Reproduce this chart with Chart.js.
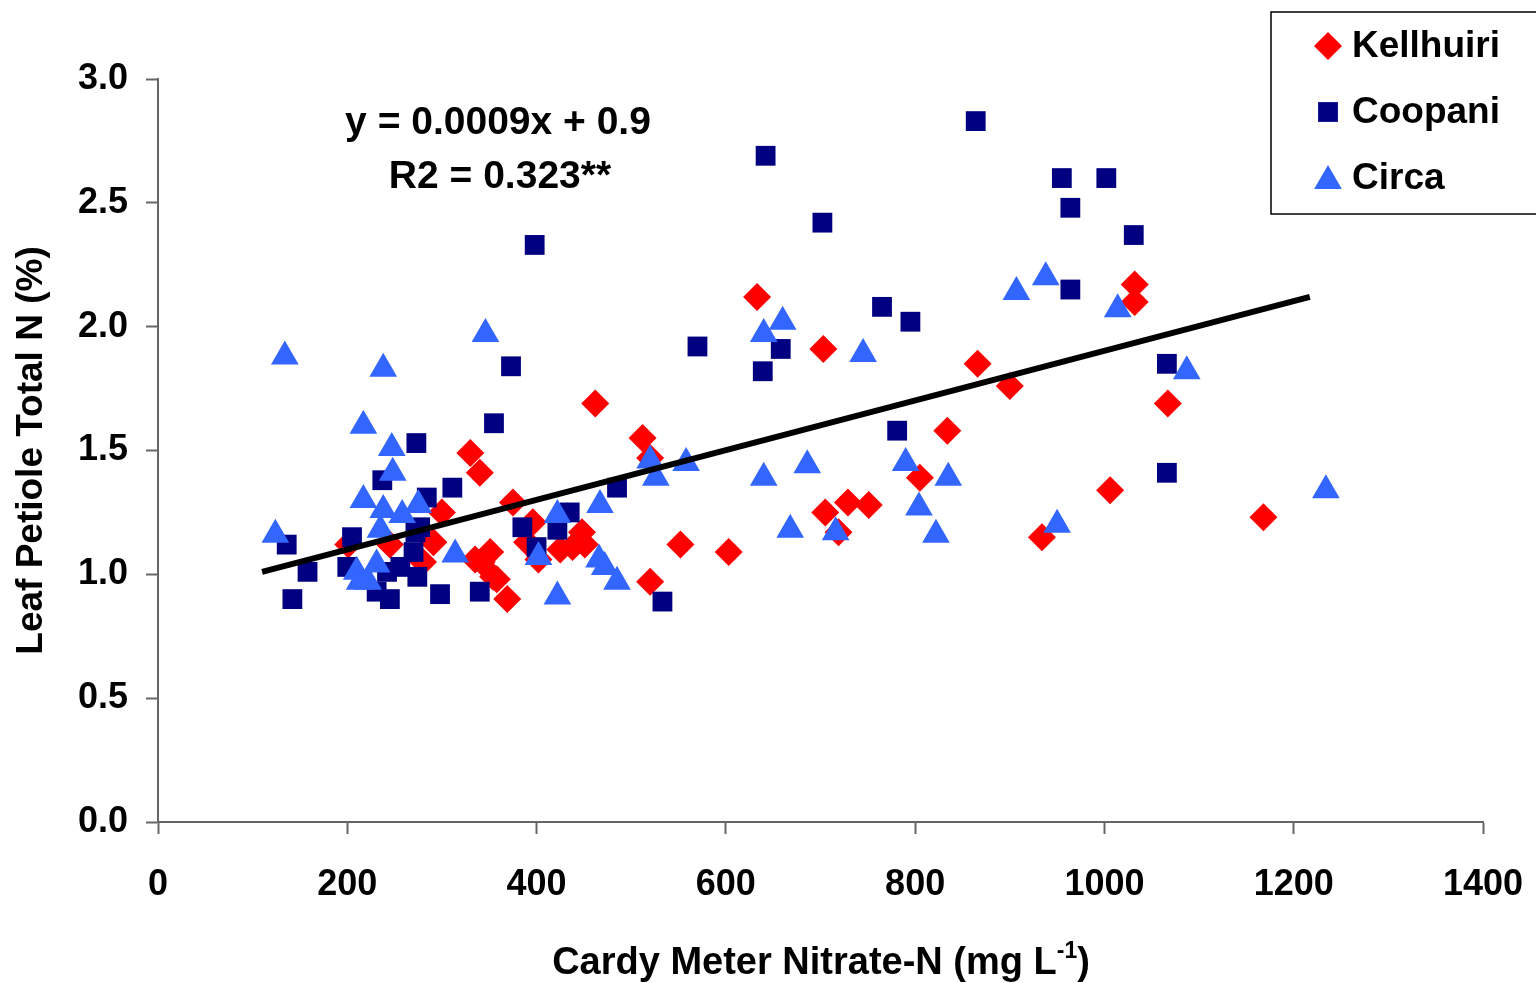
<!DOCTYPE html>
<html>
<head>
<meta charset="utf-8">
<title>Leaf petiole N vs Cardy meter nitrate</title>
<script src="https://cdn.jsdelivr.net/npm/chart.js@4.4.1/dist/chart.umd.min.js"></script>
<style>
  html, body { margin: 0; padding: 0; background: #fff; }
  #wrap { width: 1536px; height: 983px; position: relative; }
</style>
</head>
<body>
<div id="wrap"><canvas id="cardyChart"></canvas></div>
<script>
// values
const kellhuiriX = [633, 703, 866, 900, 1032, 1032, 1067, 462, 330, 340, 512, 520, 834, 805, 1006, 1168,
  729, 751, 705, 719, 934, 552, 603, 520, 369, 358, 342, 335, 351, 375, 300, 396, 402, 390, 201, 291,
  280, 448, 451, 438, 425, 354, 245];
const kellhuiriY = [2.12, 1.91, 1.85, 1.76, 2.17, 2.10, 1.69, 1.69, 1.49, 1.41, 1.55, 1.47, 1.58, 1.39, 1.34, 1.23,
  1.29, 1.28, 1.25, 1.17, 1.15, 1.12, 1.09, 0.97, 0.90, 0.98, 1.05, 1.06, 1.09, 1.29, 1.25, 1.21, 1.06, 1.13, 1.12, 1.13,
  1.05, 1.17, 1.12, 1.11, 1.10, 0.99, 1.12];

const coopaniX = [864, 642, 702, 398, 955, 1002, 964, 1031, 964, 765, 795, 570, 658, 639, 373, 1066,
  355, 781, 273, 1066, 237, 311, 485, 284, 385, 435, 422, 400, 136, 205, 277, 158, 200, 142, 245, 298,
  340, 533, 231, 274, 256, 270, 242, 272];
const coopaniY = [2.83, 2.69, 2.42, 2.33, 2.60, 2.60, 2.48, 2.37, 2.15, 2.08, 2.02, 1.92, 1.91, 1.82, 1.84, 1.85,
  1.61, 1.58, 1.53, 1.41, 1.38, 1.35, 1.35, 1.31, 1.19, 1.25, 1.18, 1.11, 1.12, 1.15, 1.19, 1.01, 1.03, 0.90, 0.90, 0.92,
  0.93, 0.89, 0.93, 0.99, 1.03, 1.09, 1.01, 1.17];

const circaX = [134, 238, 346, 217, 247, 248, 217, 238, 275, 258, 124, 314, 235, 210, 222, 231, 402, 422,
  422, 467, 466, 472, 485, 520, 526, 558, 640, 660, 640, 668, 686, 716, 745, 790, 804, 822, 835, 907,
  938, 950, 1014, 1087, 1234, 213];
const circaY = [1.88, 1.83, 1.97, 1.60, 1.51, 1.41, 1.30, 1.26, 1.28, 1.24, 1.16, 1.08, 1.18, 1.01, 0.97, 1.04, 1.07, 0.91,
  1.24, 1.28, 1.06, 1.03, 0.97, 1.46, 1.39, 1.45, 1.97, 2.02, 1.39, 1.18, 1.44, 1.17, 1.89, 1.45, 1.27, 1.16, 1.39, 2.14,
  2.20, 1.20, 2.07, 1.82, 1.34, 0.97];

// trend line end points as drawn
const trendX = [110, 1217];
const trendY = [1.01, 2.12];

const xTicks = [0, 200, 400, 600, 800, 1000, 1200, 1400];
const yTicks = [0.0, 0.5, 1.0, 1.5, 2.0, 2.5, 3.0];

const seriesNames = ['Kellhuiri', 'Coopani', 'Circa'];
const seriesColors = ['#ff0000', '#000080', '#3366ff'];
const seriesShapes = ['rectRot', 'rect', 'triangle'];

const FONT = '"Liberation Sans", Arial, sans-serif';

function toPoints(xs, ys) {
  return xs.map((x, i) => ({ x: x, y: ys[i] }));
}

function markerPath(ctx, shape, x, y, r) {
  ctx.beginPath();
  if (shape === 'rectRot') {
    ctx.moveTo(x, y - r); ctx.lineTo(x + r, y); ctx.lineTo(x, y + r); ctx.lineTo(x - r, y);
  } else if (shape === 'rect') {
    const s = r * Math.SQRT1_2;
    ctx.rect(x - s, y - s, 2 * s, 2 * s);
  } else {
    ctx.moveTo(x, y - r);
    ctx.lineTo(x + r * 0.866, y + r * 0.5);
    ctx.lineTo(x - r * 0.866, y + r * 0.5);
  }
  ctx.closePath();
}

// equation, legend box and x title with superscript
const overlay = {
  id: 'overlay',
  afterDraw(chart) {
    const ctx = chart.ctx;
    ctx.save();
    ctx.fillStyle = '#000';
    ctx.textAlign = 'center';
    ctx.textBaseline = 'middle';
    ctx.font = 'bold 39px ' + FONT;
    ctx.fillText('y = 0.0009x + 0.9', 498, 123);
    ctx.fillText('R2 = 0.323**', 500, 177);

    // legend
    ctx.lineWidth = 1.5;
    ctx.strokeStyle = '#000';
    ctx.strokeRect(1271, 12, 300, 202);
    const rows = [46, 112, 178];
    const sizes = [14, 14, 16];
    ctx.font = 'bold 37px ' + FONT;
    ctx.textAlign = 'left';
    seriesNames.forEach((name, i) => {
      ctx.fillStyle = seriesColors[i];
      markerPath(ctx, seriesShapes[i], 1328, rows[i] + (i === 2 ? 3 : 0), sizes[i]);
      ctx.fill();
      ctx.fillStyle = '#000';
      ctx.fillText(name, 1352, rows[i] + 1);
    });

    // x axis title
    ctx.font = 'bold 38px ' + FONT;
    ctx.textBaseline = 'alphabetic';
    const main = 'Cardy Meter Nitrate-N (mg L';
    const sup = '-1';
    const tail = ')';
    const w1 = ctx.measureText(main).width;
    const w3 = ctx.measureText(tail).width;
    ctx.font = 'bold 23px ' + FONT;
    const w2 = ctx.measureText(sup).width;
    let x = 821 - (w1 + w2 + w3) / 2;
    ctx.font = 'bold 38px ' + FONT;
    ctx.fillText(main, x, 974);
    x += w1;
    ctx.font = 'bold 23px ' + FONT;
    ctx.fillText(sup, x, 958);
    x += w2;
    ctx.font = 'bold 38px ' + FONT;
    ctx.fillText(tail, x, 974);
    ctx.restore();
  }
};

document.addEventListener('DOMContentLoaded', function() {
  const ctx = document.getElementById('cardyChart');

  const scatter = (i, xs, ys, r, ord) => ({
    type: 'scatter',
    label: seriesNames[i],
    data: toPoints(xs, ys),
    pointStyle: seriesShapes[i],
    pointRadius: r,
    pointHoverRadius: r,
    backgroundColor: seriesColors[i],
    borderColor: seriesColors[i],
    borderWidth: 0,
    order: ord
  });

  new Chart(ctx, {
    type: 'scatter',
    data: {
      datasets: [
        {
          type: 'line',
          label: 'Trend',
          data: toPoints(trendX, trendY),
          borderColor: '#000',
          borderWidth: 6,
          pointRadius: 0,
          fill: false,
          order: 0
        },
        scatter(2, circaX, circaY, 16, 1),
        scatter(1, coopaniX, coopaniY, 14, 2),
        scatter(0, kellhuiriX, kellhuiriY, 14, 3)
      ]
    },
    options: {
      responsive: true,
      maintainAspectRatio: false,
      animation: false,
      layout: { padding: { left: 0, top: 79, right: 53, bottom: 0 } },
      plugins: {
        legend: { display: false },
        tooltip: { enabled: false }
      },
      scales: {
        x: {
          type: 'linear',
          min: 0,
          max: 1400,
          afterBuildTicks: function(scale) {
            scale.ticks = xTicks.map(v => ({ value: v }));
          },
          afterFit: function(scale) {
            scale.height = 161;
            scale.paddingRight = 0;
            scale.paddingLeft = 0;
          },
          grid: {
            drawOnChartArea: false,
            drawTicks: true,
            tickLength: 12,
            tickColor: '#666',
            tickWidth: 2
          },
          border: { display: true, color: '#666', width: 2 },
          ticks: {
            color: '#000',
            padding: 29,
            maxRotation: 0,
            callback: function(value) { return String(value); },
            font: { family: FONT, size: 36, weight: 'bold' }
          }
        },
        y: {
          type: 'linear',
          min: 0,
          max: 3,
          afterBuildTicks: function(scale) {
            scale.ticks = yTicks.map(v => ({ value: v }));
          },
          afterFit: function(scale) {
            scale.width = 158;
            scale.paddingTop = 0;
            scale.paddingBottom = 0;
          },
          grid: {
            drawOnChartArea: false,
            drawTicks: true,
            tickLength: 12,
            tickColor: '#666',
            tickWidth: 2
          },
          border: { display: true, color: '#666', width: 2 },
          ticks: {
            color: '#000',
            padding: 18,
            callback: function(value) { return value.toFixed(1); },
            font: { family: FONT, size: 36, weight: 'bold' }
          },
          title: {
            display: true,
            text: 'Leaf Petiole Total N (%)',
            color: '#000',
            padding: { top: 10, bottom: 0 },
            font: { family: FONT, size: 37, weight: 'bold' }
          }
        }
      }
    },
    plugins: [overlay]
  });
});
</script>
</body>
</html>
